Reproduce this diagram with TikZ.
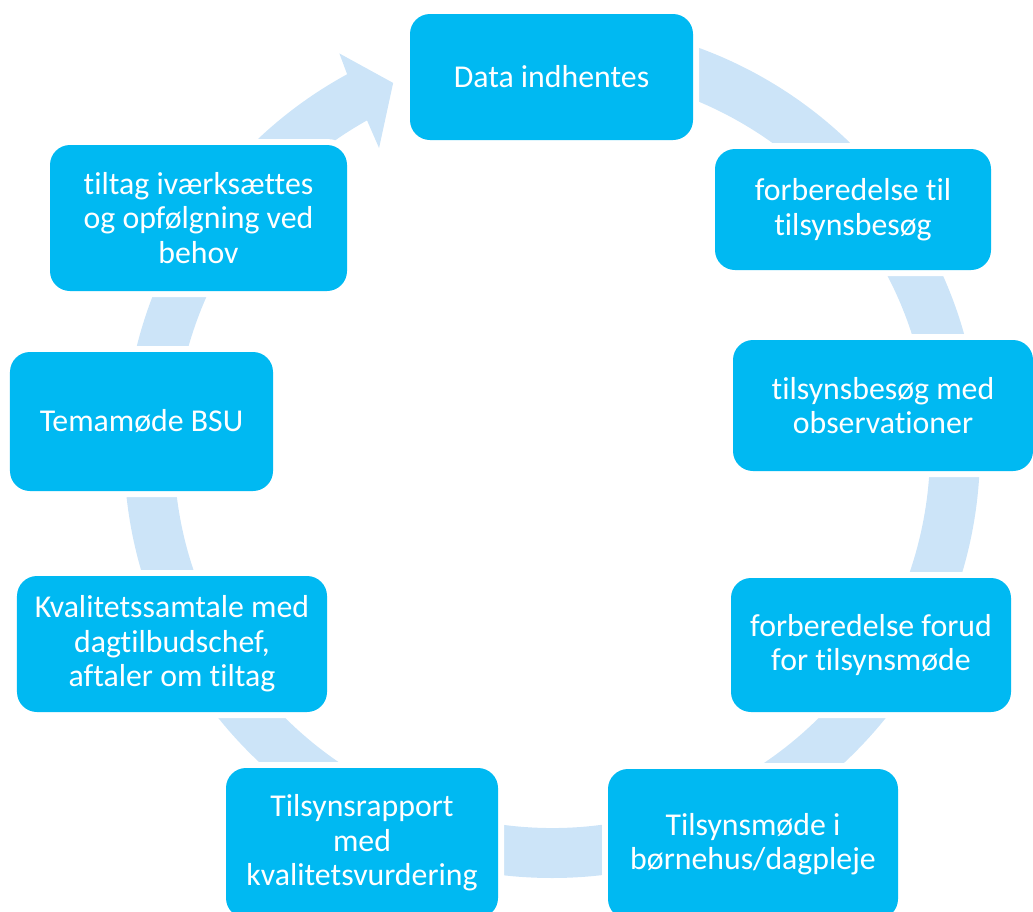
\documentclass[tikz,border=0pt]{standalone}
\usepackage{fontspec}
\setmainfont[Ligatures=NoCommon]{Carlito}
\definecolor{boxblue}{HTML}{00B9F2}
\definecolor{ringblue}{HTML}{CCE4F8}
\begin{document}
\begin{tikzpicture}[
    stepbox/.style={
        fill=boxblue, text=white, rounded corners=0.2cm,
        inner sep=0pt, align=center,
        font=\fontsize{9.05}{9.85}\selectfont,
        preaction={draw=white, line width=0.12cm}
    }
]
                        \clip (0,0) rectangle (10.33,9.11);
                        % ring with arrowhead
                        \begin{scope}[shift={(5.52,4.61)}]
                            \fill[ringblue] (90:4.28) arc[start angle=90, end angle=-241.4, radius=4.28]
                                -- (-241.8:4.50) -- (-246.6:4.00) -- (-240.2:3.48) -- (-240.7:3.78)
                                arc[start angle=-240.7, end angle=90, radius=3.78] -- cycle;
                        \end{scope}

                        \node[stepbox, minimum width=2.83cm, minimum height=1.26cm] (data) at (5.515,8.34) {Data indhentes};
                        \node[stepbox, minimum width=2.76cm, minimum height=1.21cm] (forb) at (8.53,7.015) {forberedelse til\\tilsynsbesøg};
                        \node[stepbox, minimum width=3.00cm, minimum height=1.31cm] (besog) at (8.83,5.055) {tilsynsbesøg med\\observationer};
                        \node[stepbox, minimum width=2.80cm, minimum height=1.34cm] (forud) at (8.71,2.66) {forberedelse forud\\for tilsynsmøde};
                        \node[stepbox, minimum width=2.90cm, minimum height=1.50cm] (mode) at (7.53,0.67) {Tilsynsmøde i\\børnehus/dagpleje};
                        \node[stepbox, minimum width=2.72cm, minimum height=1.50cm] (rapport) at (3.62,0.68) {Tilsynsrapport\\med\\kvalitetsvurdering};
                        \node[stepbox, minimum width=3.10cm, minimum height=1.36cm] (samtale) at (1.72,2.67) {Kvalitetssamtale med\\dagtilbudschef,\\aftaler om tiltag};
                        \node[stepbox, minimum width=2.63cm, minimum height=1.39cm] (bsu) at (1.415,4.895) {Temamøde BSU};
                        \node[stepbox, minimum width=2.97cm, minimum height=1.46cm] (tiltag) at (1.985,6.93) {tiltag iværksættes\\og opfølgning ved\\behov};
\end{tikzpicture}
\end{document}
